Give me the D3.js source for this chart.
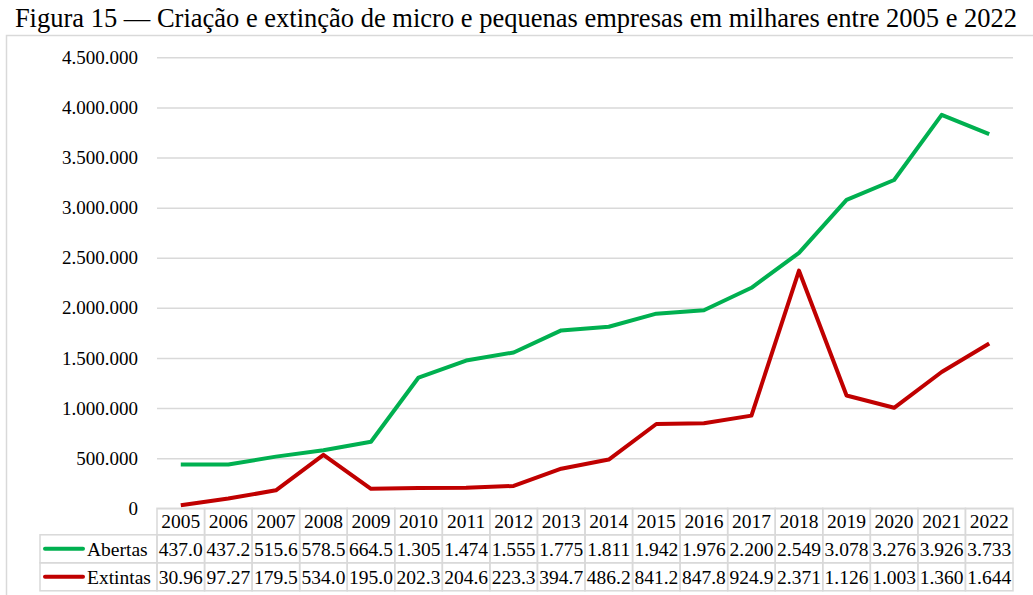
<!DOCTYPE html>
<html lang="pt">
<head>
<meta charset="UTF-8">
<title>Figura 15</title>
<script src="https://d3js.org/d3.v7.min.js"></script>
<style>
    body { margin: 0; background: #fff; }
    svg text { font-family: "Liberation Serif", "Times New Roman", serif; fill: #000; }
    .grid line { stroke: #d9d9d9; stroke-width: 1.5; }
    .grid .domain { display: none; }
    .y-axis .domain { display: none; }
</style>
</head>
<body>
<div id="chart"></div>
<script>
    // data
    const years = [2005, 2006, 2007, 2008, 2009, 2010, 2011, 2012, 2013, 2014, 2015, 2016, 2017, 2018, 2019, 2020, 2021, 2022];
    const abertas = [437000, 437200, 515600, 578500, 664500, 1305000, 1474000, 1555000, 1775000, 1811000, 1942000, 1976000, 2200000, 2549000, 3078000, 3276000, 3926000, 3733000];
    const extintas = [30960, 97270, 179500, 534000, 195000, 202300, 204600, 223300, 394700, 486200, 841200, 847800, 924900, 2371000, 1126000, 1003000, 1360000, 1644000];
    const seriesNames = ["Abertas", "Extintas"];
    const seriesColors = ["#00b050", "#c00000"];
    const yTicks = [0, 500000, 1000000, 1500000, 2000000, 2500000, 3000000, 3500000, 4000000, 4500000];
    const title = "Figura 15 — Criação e extinção de micro e pequenas empresas em milhares entre 2005 e 2022";

    const W = 1033, H = 595;
    const plot = { left: 157, right: 1013, top: 57.3, bottom: 508.3 };
    const rowH = 28;
    const serif = "'Liberation Serif', 'Times New Roman', serif";

    const ptBR = d3.formatLocale({ decimal: ",", thousands: ".", grouping: [3], currency: ["R$", ""] });
    const fmt = ptBR.format(",");
    // Excel-style cell text: shown value gets clipped to the cell width
    const cellText = v => fmt(v).slice(0, 5);

    const svg = d3.select("#chart").append("svg")
        .attr("width", W)
        .attr("height", H);

    // outer chart border
    svg.append("rect")
        .attr("x", 6.5).attr("y", 35.5)
        .attr("width", W + 10).attr("height", H)
        .attr("fill", "none")
        .attr("stroke", "#d9d9d9")
        .attr("stroke-width", 1.5);

    svg.append("text")
        .attr("x", 516)
        .attr("y", 27)
        .attr("text-anchor", "middle")
        .style("font-family", serif)
        .style("font-size", "26.5px")
        .text(title);

    const x = d3.scaleBand().domain(years).range([plot.left, plot.right]);
    const y = d3.scaleLinear().domain([0, 4500000]).range([plot.bottom, plot.top]);

    // gridlines
    svg.append("g")
        .attr("class", "grid")
        .attr("transform", `translate(${plot.left},0)`)
        .call(d3.axisLeft(y).tickValues(yTicks).tickSize(-(plot.right - plot.left)).tickFormat(""));

    // y axis labels
    svg.append("g")
        .attr("class", "y-axis")
        .attr("transform", `translate(${plot.left},0)`)
        .call(d3.axisLeft(y).tickValues(yTicks).tickSize(0).tickPadding(19).tickFormat(fmt))
        .selectAll("text")
        .style("font-size", "19px")
        .style("font-family", serif);

    // lines
    const line = d3.line()
        .x((d, i) => x(years[i]) + x.bandwidth() / 2)
        .y(d => y(d));

    [abertas, extintas].forEach((vals, k) => {
        svg.append("path")
            .datum(vals)
            .attr("d", line)
            .attr("fill", "none")
            .attr("stroke", seriesColors[k])
            .attr("stroke-width", 4)
            .attr("stroke-linejoin", "round");
    });

    // data table
    const table = svg.append("g").style("font-family", serif);
    const tStroke = "#d9d9d9";
    const legendLeft = 40;

    years.forEach(yr => {
        table.append("rect")
            .attr("x", x(yr)).attr("y", plot.bottom)
            .attr("width", x.bandwidth()).attr("height", rowH - 1.5)
            .attr("fill", "none").attr("stroke", tStroke).attr("stroke-width", 1.5);
        table.append("text")
            .attr("x", x(yr) + x.bandwidth() / 2)
            .attr("y", plot.bottom + (rowH - 1.5) / 2)
            .attr("dy", "0.35em")
            .attr("text-anchor", "middle")
            .style("font-size", "19.5px")
            .text(yr);
    });

    [abertas, extintas].forEach((vals, k) => {
        const top = plot.bottom + rowH - 1.5 + k * rowH;
        table.append("rect")
            .attr("x", legendLeft).attr("y", top)
            .attr("width", plot.left - legendLeft).attr("height", rowH)
            .attr("fill", "none").attr("stroke", tStroke).attr("stroke-width", 1.5);
        table.append("line")
            .attr("x1", legendLeft + 5).attr("x2", legendLeft + 43)
            .attr("y1", top + rowH / 2).attr("y2", top + rowH / 2)
            .attr("stroke", seriesColors[k])
            .attr("stroke-width", 4)
            .attr("stroke-linecap", "round");
        table.append("text")
            .attr("x", legendLeft + 47)
            .attr("y", top + rowH / 2)
            .attr("dy", "0.35em")
            .style("font-size", "19.5px")
            .text(seriesNames[k]);
        vals.forEach((v, i) => {
            table.append("rect")
                .attr("x", x(years[i])).attr("y", top)
                .attr("width", x.bandwidth()).attr("height", rowH)
                .attr("fill", "none").attr("stroke", tStroke).attr("stroke-width", 1.5);
            table.append("text")
                .attr("x", x(years[i]) + x.bandwidth() / 2)
                .attr("y", top + rowH / 2)
                .attr("dy", "0.35em")
                .attr("text-anchor", "middle")
                .style("font-size", "19.5px")
                .text(cellText(v));
        });
    });
</script>
</body>
</html>
